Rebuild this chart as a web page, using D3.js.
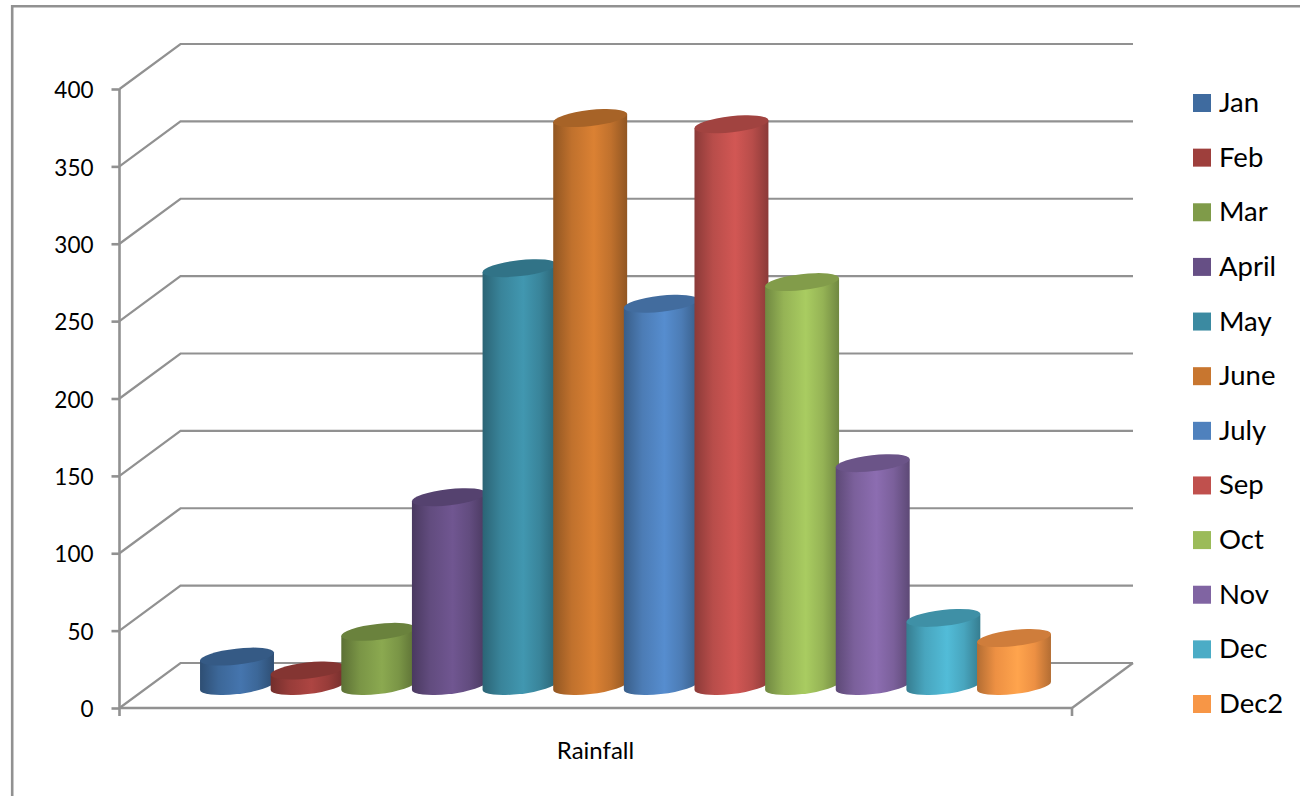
<!DOCTYPE html>
<html>
<head>
<meta charset="utf-8">
<script src="https://cdn.jsdelivr.net/npm/d3@7"></script>
<style>
  html, body { margin: 0; padding: 0; background: #fff; }
  svg { display: block; }
  text { font-family: Lato, "Noto Sans", sans-serif; fill: #000; }
</style>
</head>
<body>
<div id="chart"></div>
<script>
// rainfall per month
var months = ["Jan", "Feb", "Mar", "April", "May", "June", "July", "Sep", "Oct", "Nov", "Dec", "Dec2"];
var rainfall = [19, 10, 35, 122, 270, 367, 247, 363, 261, 144, 44, 31];
var colors = ["#3f6b9f", "#9e3f3c", "#7f9b49", "#664f85", "#3b8aa1", "#c8762f",
              "#4f81bd", "#c0504d", "#9bbb59", "#8064a2", "#4bacc6", "#f79646"];
var yTicks = [0, 50, 100, 150, 200, 250, 300, 350, 400];
var categoryLabel = "Rainfall";

var width = 1300;
var height = 796;
var gray = "#919191";

// front edge of the 3d box and how far the back wall is shifted
var left = 119.5, right = 1072;
var depthX = 61, depthY = -45;

// cylinder shape
var rx = 37.2, ry = 8, tilt = -6.5;
var tiltRad = tilt * Math.PI / 180;

var y = d3.scaleLinear().domain([0, 400]).range([708, 89]);
// columns stand halfway into the box
var x = d3.scalePoint().domain(months).range([237, 1014]);
var midDepthY = depthY / 2 + 0.5;

var svg = d3.select("#chart")
    .append("svg")
    .attr("width", width)
    .attr("height", height);

// outer chart border, only top and left are on the page
svg.append("path")
    .attr("d", "M12.2," + height + "V6.2H" + width)
    .attr("fill", "none")
    .attr("stroke", gray)
    .attr("stroke-width", 2.6);

// gradients for the cylinder sides
var defs = svg.append("defs");
colors.forEach(function(c, i) {
    var grad = defs.append("linearGradient")
        .attr("id", "side" + i)
        .attr("x1", "0%").attr("x2", "100%")
        .attr("y1", "0%").attr("y2", "0%");
    var edge = d3.color(c).darker(0.9);
    var mid = d3.color(c).brighter(0.25);
    grad.append("stop").attr("offset", "0%").attr("stop-color", edge);
    grad.append("stop").attr("offset", "25%").attr("stop-color", d3.color(c).darker(0.12));
    grad.append("stop").attr("offset", "55%").attr("stop-color", mid);
    grad.append("stop").attr("offset", "78%").attr("stop-color", d3.color(c).darker(0.12));
    grad.append("stop").attr("offset", "100%").attr("stop-color", edge);
});

// back wall gridlines with their diagonal to the front axis
var grid = svg.append("g")
    .attr("fill", "none")
    .attr("stroke", gray)
    .attr("stroke-width", 2.2);

grid.selectAll("path.wall")
    .data(yTicks)
    .enter()
    .append("path")
    .attr("class", "wall")
    .attr("d", function(d) {
        return "M" + left + "," + y(d)
            + "L" + (left + depthX) + "," + (y(d) + depthY)
            + "H" + (right + depthX);
    });

// right side of the floor
grid.append("path")
    .attr("d", "M" + right + "," + y(0)
        + "L" + (right + depthX) + "," + (y(0) + depthY));

// y axis
var yAxis = d3.axisLeft(y)
    .tickValues(yTicks)
    .tickSize(8)
    .tickPadding(18)
    .tickFormat(d3.format("d"));

var yG = svg.append("g")
    .attr("transform", "translate(" + left + ",0)")
    .call(yAxis);
yG.select(".domain").remove();
yG.selectAll(".tick line").attr("stroke", gray).attr("stroke-width", 2.6);
yG.selectAll(".tick text")
    .attr("y", 1.5)
    .style("font-family", "Lato, sans-serif")
    .style("font-size", "22.5px")
    .attr("fill", "#000");

// front axis lines, both run a little past the floor
svg.append("path")
    .attr("d", "M" + left + "," + y(400) + "V" + (y(0) + 8)
        + "M" + left + "," + y(0) + "H" + right
        + "M" + right + "," + y(0) + "V" + (y(0) + 8))
    .attr("fill", "none")
    .attr("stroke", gray)
    .attr("stroke-width", 2.6);

// cylinders, left to right so each one overlaps the previous
var bars = svg.selectAll("g.bar")
    .data(months)
    .enter()
    .append("g")
    .attr("class", "bar");

// points where a tilted ellipse has a vertical tangent, the sides start there
function ellipseEnds(cx, cy) {
    var c = Math.cos(tiltRad), s = Math.sin(tiltRad);
    var dx = Math.sqrt(rx * rx * c * c + ry * ry * s * s);
    var dy = (rx * rx - ry * ry) * s * c / dx;
    return { x0: cx - dx, y0: cy - dy, x1: cx + dx, y1: cy + dy };
}

bars.append("path")
    .attr("fill", function(d, i) { return "url(#side" + i + ")"; })
    .attr("d", function(d, i) {
        var cx = x(d);
        var top = ellipseEnds(cx, y(rainfall[i]) + midDepthY);
        var base = ellipseEnds(cx, y(0) + midDepthY);
        return "M" + top.x0 + "," + top.y0
            + "L" + base.x0 + "," + base.y0
            + "A" + rx + "," + ry + " " + tilt + " 0 0 " + base.x1 + "," + base.y1
            + "L" + top.x1 + "," + top.y1
            + "Z";
    });

bars.append("ellipse")
    .attr("rx", rx)
    .attr("ry", ry)
    .attr("fill", function(d, i) { return d3.color(colors[i]).darker(0.5); })
    .attr("transform", function(d, i) {
        return "translate(" + x(d) + "," + (y(rainfall[i]) + midDepthY) + ") rotate(" + tilt + ")";
    });

// category label under the floor
svg.append("text")
    .attr("x", 595.5)
    .attr("y", 759)
    .attr("text-anchor", "middle")
    .style("font-size", "24px")
    .text(categoryLabel);

// legend
var legendY = d3.scalePoint().domain(months).range([103, 704]);

var legend = svg.selectAll("g.legend")
    .data(months)
    .enter()
    .append("g")
    .attr("class", "legend")
    .attr("transform", function(d) { return "translate(1193," + legendY(d) + ")"; });

legend.append("rect")
    .attr("y", -9)
    .attr("width", 18)
    .attr("height", 18)
    .attr("fill", function(d, i) { return colors[i]; });

legend.append("text")
    .attr("x", 26)
    .attr("y", 9)
    .style("font-size", "27.5px")
    .text(function(d) { return d; });
</script>
</body>
</html>
